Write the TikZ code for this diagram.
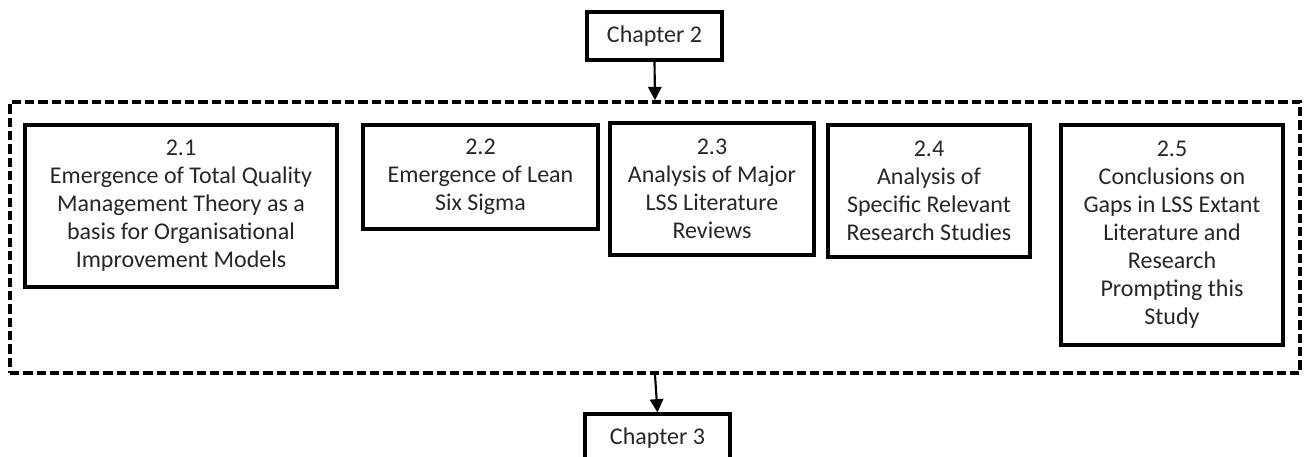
\documentclass[tikz,border=0pt]{standalone}
\usepackage{fontspec}
\setmainfont{Carlito}
\usetikzlibrary{arrows.meta}
\begin{document}
\begin{tikzpicture}[x=0.75pt,y=-0.75pt,
  box/.style={draw,line width=2.3pt,align=center,inner sep=0pt,text=black!85,
    font=\fontsize{18}{21}\selectfont},
  frame/.style={draw,line width=2.7pt,dash pattern=on 7pt off 3pt,inner sep=0pt},
  conn/.style={line width=1.6pt,-{Triangle[width=10pt,length=10pt]}}]
\useasboundingbox (0,0) rectangle (1304,457);
\node[frame,minimum width=967.5pt,minimum height=203.25pt] (frame) at (655,237.5) {};
\node[box,minimum width=101.25pt,minimum height=36pt] (ch2) at (654.5,36) {Chapter 2};
\node[box,minimum width=108.75pt,minimum height=36pt] (ch3) at (657.5,438) {Chapter 3};
\node[box,minimum width=234pt,minimum height=121.5pt] (b1) at (181,206)
  {2.1\\Emergence of Total Quality\\Management Theory as a\\basis for Organisational\\Improvement Models};
\node[box,minimum width=176.25pt,minimum height=78pt] (b2) at (480.5,177)
  {2.2\\Emergence of Lean\\Six Sigma};
\node[box,minimum width=153pt,minimum height=99pt] (b3) at (712,189)
  {2.3\\Analysis of Major\\LSS Literature\\Reviews};
\node[box,minimum width=151.5pt,minimum height=99pt] (b4) at (929,191)
  {2.4\\Analysis of\\Specific Relevant\\Research Studies};
\node[box,minimum width=166.5pt,minimum height=165pt] (b5) at (1172,235)
  {2.5\\Conclusions on\\Gaps in LSS Extant\\Literature and\\Research\\Prompting this\\Study};
\draw[conn] (ch2.south) -- (frame.north);
\draw[conn] (frame.south) -- (ch3.north);
\end{tikzpicture}
\end{document}
